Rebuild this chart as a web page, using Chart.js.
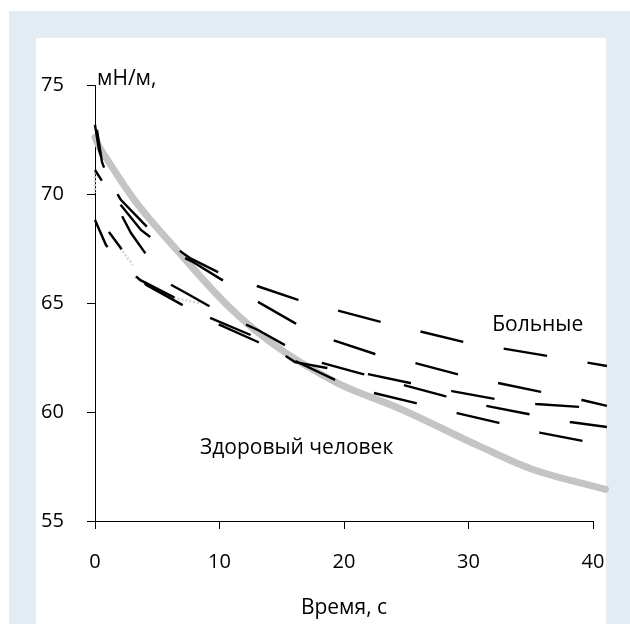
<!DOCTYPE html>
<html>
<head>
<meta charset="utf-8">
<script src="https://cdn.jsdelivr.net/npm/chart.js@4.4.0/dist/chart.umd.min.js"></script>
<style>
    html, body { margin: 0; padding: 0; background: #fff; }
    #SurfaceTensionChart { display: block; }
</style>
</head>
<body>
<canvas id="SurfaceTensionChart" width="630" height="624"></canvas>
<script>
// время, с / поверхностное натяжение, мН/м
const HEALTHY_T = [0, 0.4, 0.9, 3.2, 6.7, 10.8, 14.1, 19.4, 24.5, 31, 35, 41];
const HEALTHY_V = [72.6, 72.1, 71.65, 69.7, 67.35, 64.8, 63.2, 61.35, 60.15, 58.4, 57.4, 56.45];

const PATIENT_A_T = [0, 0.32, 1.04, 2.09, 4.42, 7.63, 9.88, 13.01, 16.31, 22.97, 29.64, 36.39, 41.12];
const PATIENT_A_V = [73.17, 72.02, 70.73, 69.72, 68.35, 67.06, 66.42, 65.78, 65.14, 64.13, 63.21, 62.57, 62.11];

const PATIENT_B_T = [0.16, 0.56, 1.61, 3.69, 5.62, 7.87, 10.2, 13.09, 16.06, 19.12, 22.49, 25.7, 29.08, 32.37, 35.82, 39.12, 41.12];
const PATIENT_B_V = [72.94, 71.47, 69.82, 68.35, 67.52, 66.88, 66.06, 65.05, 64.08, 63.3, 62.66, 62.25, 61.74, 61.33, 60.92, 60.55, 60.28];

const PATIENT_C_T = [0, 1.29, 2.89, 4.82, 5.7, 7.31, 10.44, 13.09, 15.66, 18.23, 21.53, 24.74, 28.11, 31.41, 34.78, 38.15, 41.12];
const PATIENT_C_V = [71.1, 69.95, 68.21, 66.65, 65.96, 65.46, 64.45, 63.76, 62.94, 62.25, 61.74, 61.24, 60.73, 60.28, 59.91, 59.54, 59.31];

const PATIENT_D_T = [0, 0.88, 2.01, 3.61, 6.43, 9.08, 13.09, 16.06, 18.63, 21.93, 25.3, 28.67, 32.13, 35.42, 38.96];
const PATIENT_D_V = [68.81, 67.66, 66.88, 66.06, 65.23, 64.36, 63.39, 62.29, 62.02, 61.74, 61.33, 60.96, 60.6, 60.37, 60.23];

const PATIENT_E_T = [1.12, 2.01, 3.05, 4.1, 7.47, 8.59, 13.09, 15.26, 19.28, 22.41, 25.78, 29.08, 32.45, 35.82, 39.2];
const PATIENT_E_V = [68.26, 67.57, 66.74, 65.83, 64.77, 64.36, 63.21, 62.57, 61.47, 60.87, 60.41, 59.95, 59.5, 59.04, 58.67];

// бледные пунктирные участки у начала кривых
const FAINT_T = [0, 0, null, 2.01, 3.05, null, 3.2, 6.43, 8.4];
const FAINT_V = [71.0, 70.05, null, 67.52, 66.74, null, 66.2, 65.23, 65.0];

const X_TICKS = [0, 10, 20, 30, 40];
const Y_TICKS = [55, 60, 65, 70, 75];

const FONT = 'Open Sans';

function toPoints(t, v) {
    return t.map((x, i) => ({ x: x, y: v[i] }));
}

function patient(t, v, dashOffset) {
    return {
        data: toPoints(t, v),
        showLine: true,
        borderColor: '#000',
        borderWidth: 2.4,
        borderDash: [44, 41],
        borderDashOffset: dashOffset,
        borderCapStyle: 'butt',
        pointRadius: 0,
        tension: 0,
        clip: false,
        order: 1,
    };
}

const backgroundPlugin = {
    id: 'panelBackground',
    beforeDraw(chart) {
        const ctx = chart.ctx;
        ctx.save();
        ctx.fillStyle = '#ffffff';
        ctx.fillRect(0, 0, chart.width, chart.height);
        ctx.fillStyle = '#e4ecf3';
        ctx.fillRect(9, 11, chart.width - 9, chart.height - 11);
        ctx.fillStyle = '#ffffff';
        ctx.fillRect(36, 38, 570, chart.height - 38);
        ctx.restore();
    }
};

const labelsPlugin = {
    id: 'curveLabels',
    afterDraw(chart) {
        const ctx = chart.ctx;
        const x = chart.scales.x;
        const y = chart.scales.y;
        ctx.save();
        ctx.fillStyle = '#000';
        ctx.textBaseline = 'middle';
        ctx.textAlign = 'left';
        ctx.font = '21px "' + FONT + '"';
        ctx.fillText('мН/м,', x.getPixelForValue(0.16), y.getPixelForValue(75.28));
        ctx.fillText('Больные', x.getPixelForValue(31.9), y.getPixelForValue(64.0));
        ctx.fillText('Здоровый человек', x.getPixelForValue(8.43), y.getPixelForValue(58.35));
        ctx.restore();
    }
};

window.onload = function(){

    let ctx = document.getElementById('SurfaceTensionChart').getContext('2d');

    window.STChart = new Chart(ctx, {
        type: 'scatter',
        data: {
            datasets: [
                patient(PATIENT_A_T, PATIENT_A_V, 11.5),
                patient(PATIENT_B_T, PATIENT_B_V, 5.5),
                patient(PATIENT_C_T, PATIENT_C_V, 31.4),
                patient(PATIENT_D_T, PATIENT_D_V, 14),
                patient(PATIENT_E_T, PATIENT_E_V, 22.5),
                {
                    data: toPoints(FAINT_T, FAINT_V),
                    showLine: true,
                    spanGaps: false,
                    borderColor: '#d4d4d4',
                    borderWidth: 2.5,
                    borderDash: [2, 2],
                    pointRadius: 0,
                    clip: false,
                    order: 2,
                },
                {
                    data: toPoints(HEALTHY_T, HEALTHY_V),
                    showLine: true,
                    borderColor: '#c4c4c4',
                    borderWidth: 7,
                    borderCapStyle: 'round',
                    borderJoinStyle: 'round',
                    pointRadius: 0,
                    cubicInterpolationMode: 'monotone',
                    clip: false,
                    order: 3,
                },
            ]
        },
        options: {
            responsive: false,
            animation: false,
            devicePixelRatio: 1,
            layout: {
                padding: { left: 41, top: 85, right: 37, bottom: 0 }
            },
            plugins: {
                legend: { display: false },
                tooltip: { enabled: false }
            },
            scales: {
                x: {
                    type: 'linear',
                    min: 0,
                    max: 40,
                    afterFit: function(scale) { scale.height = 103; },
                    afterBuildTicks: function(scale) { scale.ticks = X_TICKS.map(v => ({ value: v })); },
                    border: { display: true, color: '#000', width: 1 },
                    grid: {
                        drawOnChartArea: false,
                        drawTicks: true,
                        tickLength: 8,
                        color: '#000',
                        lineWidth: 1
                    },
                    ticks: {
                        color: '#000',
                        padding: 21,
                        maxRotation: 0,
                        font: { family: FONT, size: 20 }
                    },
                    title: {
                        display: true,
                        text: 'Время, с',
                        color: '#000',
                        font: { family: FONT, size: 21 },
                        padding: { top: 0, bottom: 3 }
                    }
                },
                y: {
                    type: 'linear',
                    min: 55,
                    max: 75,
                    afterFit: function(scale) { scale.width = 54; },
                    afterBuildTicks: function(scale) { scale.ticks = Y_TICKS.map(v => ({ value: v })); },
                    border: { display: true, color: '#000', width: 1 },
                    grid: {
                        drawOnChartArea: false,
                        drawTicks: true,
                        tickLength: 8,
                        color: '#000',
                        lineWidth: 1
                    },
                    ticks: {
                        color: '#000',
                        crossAlign: 'far',
                        font: { family: FONT, size: 20 }
                    }
                }
            }
        },
        plugins: [backgroundPlugin, labelsPlugin]
    });

};
</script>
</body>
</html>
